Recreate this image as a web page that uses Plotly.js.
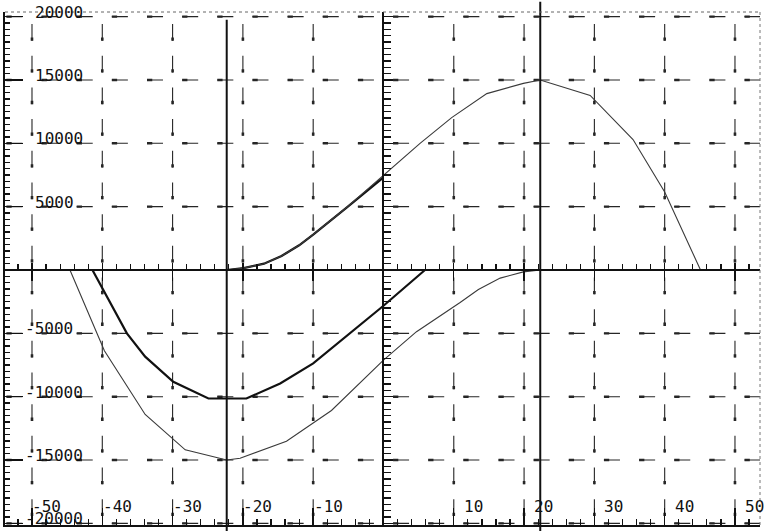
<!DOCTYPE html>
<html>
<head>
<meta charset="utf-8">
<script src="https://cdn.plot.ly/plotly-3.0.1.min.js"></script>
<style>
  html, body { margin: 0; padding: 0; background: #fff; }
  #plot { width: 765px; height: 531px; }
</style>
</head>
<body>
<div id="plot"></div>
<script>
// Moment curves for a moving load between two supports

// heavy lower curve
const lowerHeavyX = [-41.4, -36.5, -33.9, -29.9, -24.9, -19.5, -14.7, -10, 0, 5.9];
const lowerHeavyY = [0, -5000, -6840, -8820, -10140, -10140, -8950, -7370, -2820, 0];

// light lower curve
const lowerLightX = [-44.6, -39.7, -33.9, -28.2, -22.3, -20.4, -13.8, -7.4, 0, 4.7, 10.9, 13.5, 16.6, 19.9, 22.3];
const lowerLightY = [0, -6370, -11400, -14190, -15000, -14860, -13520, -11090, -7110, -4870, -2560, -1540, -640, -150, 0];

// light upper curve
const upperLightX = [-22.3, -19.9, -17, -14.5, -12, -10, -5.2, 0, 5.2, 9.7, 14.7, 19.9, 22.3, 29.4, 35.5, 40, 45.1];
const upperLightY = [0, 150, 500, 1100, 1950, 2800, 4950, 7500, 10000, 12030, 13920, 14730, 15000, 13780, 10300, 6150, 0];

// heavy upper curve (left branch)
const upperHeavyX = [-22.3, -19.9, -17, -14.5, -12, -10, -5.2, 0];
const upperHeavyY = [0, 150, 500, 1100, 1950, 2800, 4950, 7310];

// support positions
const supports = [-22.3, 22.3];

// axis labels (also the grid positions)
const xLabels = [-50, -40, -30, -20, -10, 10, 20, 30, 40, 50];
const yLabels = [20000, 15000, 10000, 5000, -5000, -10000, -15000, -20000];

const X_RANGE = [-53.84, 53.56];
const Y_RANGE = [-20126, 20363];
const X0 = (0 - X_RANGE[0]) / (X_RANGE[1] - X_RANGE[0]);
const Y0 = (0 - Y_RANGE[0]) / (Y_RANGE[1] - Y_RANGE[0]);

const ink = '#111';
const lightInk = '#3a3a3a';
const gridInk = '#262626';
const charW = 9.63;
const labelFont = { family: 'DejaVu Sans Mono', size: 16, color: ink };

function curve(x, y, xa, ya, width, color) {
  return { x: x, y: y, xaxis: xa, yaxis: ya, type: 'scatter', mode: 'lines',
           line: { color: color, width: width }, hoverinfo: 'skip' };
}

const data = [
  curve(lowerLightX, lowerLightY, 'x2', 'y', 1.1, lightInk),
  curve(upperLightX, upperLightY, 'x3', 'y', 1.1, lightInk),
  curve(lowerHeavyX, lowerHeavyY, 'x', 'y', 2.2, ink),
  curve(upperHeavyX, upperHeavyY, 'x', 'y2', 2.2, ink)
];

// plotter-style broken grid: dashes sit between the grid crossings,
// each with a heavier pen-down end
const Y_DASH_STEP = 2500, Y_DASH_HALF = 660, Y_BLOB = 260;
const X_DASH_STEP = 5, X_DASH_HALF = 1.14, X_BLOB = 0.75;
const shapes = [];
xLabels.forEach(gx => {
  let thin = '', heavy = '';
  for (let k = -8; k <= 7; k++) {
    const c = k * Y_DASH_STEP + Y_DASH_STEP / 2;
    thin += `M${gx},${c - Y_DASH_HALF}L${gx},${c + Y_DASH_HALF}`;
    heavy += `M${gx},${c - Y_DASH_HALF}L${gx},${c - Y_DASH_HALF + Y_BLOB}`;
  }
  shapes.push({ type: 'path', xref: 'x', yref: 'y', path: thin, layer: 'below', line: { color: gridInk, width: 1.1 } });
  shapes.push({ type: 'path', xref: 'x', yref: 'y', path: heavy, layer: 'below', line: { color: gridInk, width: 2.6 } });
});
yLabels.forEach(gy => {
  let thin = '', heavy = '';
  for (let k = -11; k <= 10; k++) {
    const c = k * X_DASH_STEP + X_DASH_STEP / 2;
    thin += `M${c - X_DASH_HALF},${gy}L${c + X_DASH_HALF},${gy}`;
    heavy += `M${c - X_DASH_HALF},${gy}L${c - X_DASH_HALF + X_BLOB},${gy}`;
  }
  shapes.push({ type: 'path', xref: 'x', yref: 'y', path: thin, layer: 'below', line: { color: gridInk, width: 1.1 } });
  shapes.push({ type: 'path', xref: 'x', yref: 'y', path: heavy, layer: 'below', line: { color: gridInk, width: 2.4 } });
});

const supportTop = [0.985, 1.02];
supports.forEach((s, i) => shapes.push({
  type: 'line', xref: 'x', yref: 'paper', x0: s, x1: s, y0: -0.02, y1: supportTop[i],
  line: { color: ink, width: 2 }
}));
// dotted frame on the top and right
shapes.push({ type: 'line', xref: 'paper', yref: 'paper', x0: 0, x1: 1, y0: 1, y1: 1,
              line: { color: '#666', width: 1, dash: 'dot' } });
shapes.push({ type: 'line', xref: 'paper', yref: 'paper', x0: 1, x1: 1, y0: 0, y1: 1,
              line: { color: '#777', width: 1, dash: 'dot' } });

const annotations = [];
yLabels.forEach(v => {
  annotations.push({
    xref: 'x', yref: 'y', x: -50, y: v, text: String(v),
    xanchor: 'left', yanchor: 'bottom', showarrow: false,
    xshift: 3 - (v < 0 ? charW : 0), yshift: -5,
    borderpad: 0, borderwidth: 0, font: labelFont
  });
});
xLabels.forEach(v => {
  annotations.push({
    xref: 'x', yref: 'paper', x: v, y: 0, text: String(v),
    xanchor: 'left', yanchor: 'bottom', showarrow: false,
    xshift: 10 - (v < 0 ? charW : 0), yshift: 9,
    borderpad: 0, borderwidth: 0, font: labelFont
  });
});

const tickBase = { tickcolor: ink, tickwidth: 1.4, showticklabels: false, zeroline: false,
                   showgrid: false, fixedrange: true };

const layout = {
  width: 765, height: 531,
  margin: { l: 5, r: 5, t: 12, b: 6, pad: 0 },
  paper_bgcolor: '#fff', plot_bgcolor: '#fff',
  showlegend: false,
  font: labelFont,
  xaxis: Object.assign({}, tickBase, {
    range: X_RANGE, tick0: 0, dtick: 10,
    showline: true, linecolor: ink, linewidth: 2,
    ticks: 'inside', ticklen: 17,
    minor: { dtick: 2, ticks: 'inside', ticklen: 6, tickwidth: 1.2, tickcolor: ink, showgrid: false }
  }),
  yaxis: Object.assign({}, tickBase, {
    range: Y_RANGE, tick0: 0, dtick: 5000,
    showline: true, linecolor: ink, linewidth: 2,
    ticks: 'inside', ticklen: 18,
    minor: { dtick: 500, ticks: 'inside', ticklen: 5, tickwidth: 1.2, tickcolor: ink, showgrid: false }
  }),
  // horizontal zero axis, upward ticks
  xaxis2: Object.assign({}, tickBase, {
    overlaying: 'x', anchor: 'free', position: Y0, side: 'bottom',
    range: X_RANGE, tick0: 0, dtick: 10,
    showline: true, linecolor: ink, linewidth: 2,
    ticks: 'inside', ticklen: 6,
    minor: { dtick: 2, ticks: 'inside', ticklen: 5, tickwidth: 1.2, tickcolor: ink, showgrid: false }
  }),
  // horizontal zero axis, downward major ticks
  xaxis3: Object.assign({}, tickBase, {
    overlaying: 'x', anchor: 'free', position: Y0, side: 'bottom',
    range: X_RANGE, tick0: 0, dtick: 10, showline: false,
    ticks: 'outside', ticklen: 10
  }),
  // vertical zero axis
  yaxis2: Object.assign({}, tickBase, {
    overlaying: 'y', anchor: 'free', position: X0, side: 'left',
    range: Y_RANGE, tick0: 0, dtick: 5000,
    showline: true, linecolor: ink, linewidth: 2,
    ticks: 'inside', ticklen: 9,
    minor: { dtick: 500, ticks: 'inside', ticklen: 7, tickwidth: 1.2, tickcolor: ink, showgrid: false }
  }),
  annotations: annotations,
  shapes: shapes
};

Plotly.newPlot('plot', data, layout, { staticPlot: true, displayModeBar: false });
</script>
</body>
</html>
